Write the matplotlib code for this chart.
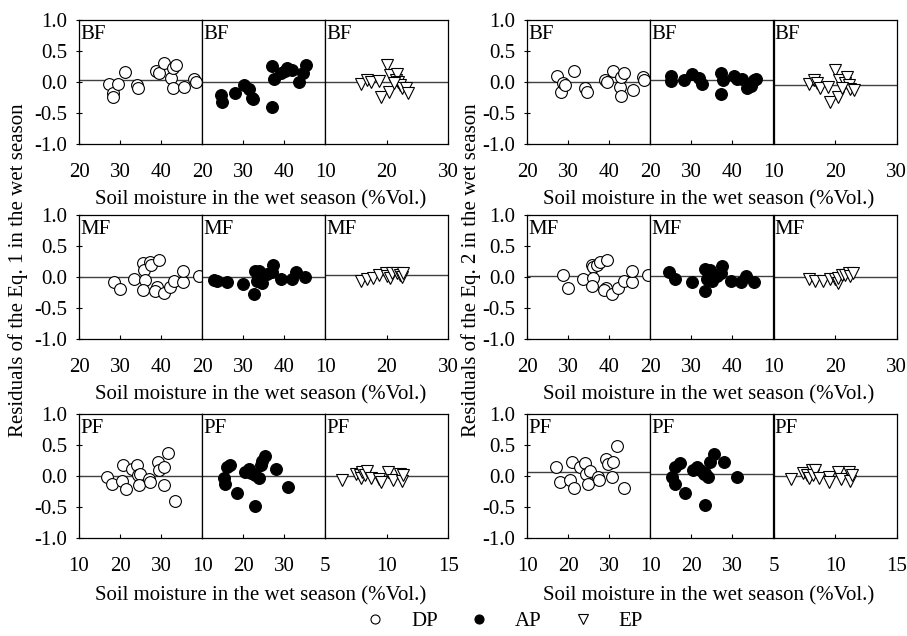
import matplotlib.pyplot as plt
from matplotlib.lines import Line2D

# residuals of Eq. 1 / Eq. 2 vs. soil moisture in the wet season
plt.rcParams['font.family'] = ['Liberation Serif', 'DejaVu Serif']
plt.rcParams['font.size'] = 15

# ---- Eq. 1, BF ----
eq1_bf_dp_x = [27.2, 28.2, 28.2, 29.4, 31.3, 34.1, 34.5, 38.8, 39.4, 40.6, 42.4, 42.9, 43.7, 42.8, 45.5, 48.0, 48.4]
eq1_bf_dp_y = [-0.04, -0.17, -0.24, -0.04, 0.16, -0.05, -0.09, 0.18, 0.15, 0.31, 0.07, 0.22, 0.27, -0.10, -0.08, 0.05, 0.00]
eq1_bf_ap_x = [24.6, 24.9, 28.0, 30.2, 31.4, 32.2, 32.4, 37.1, 37.5, 37.1, 40.1, 40.8, 42.0, 43.6, 44.5, 45.3, 39.2]
eq1_bf_ap_y = [-0.21, -0.32, -0.18, -0.05, -0.12, -0.25, -0.28, 0.26, 0.05, -0.40, 0.17, 0.22, 0.19, 0.00, 0.15, 0.27, 0.14]
eq1_bf_ep_x = [15.8, 16.8, 17.4, 18.8, 19.1, 20.1, 20.3, 20.5, 21.5, 21.7, 21.9, 22.1, 22.5, 23.1, 23.4, 21.1]
eq1_bf_ep_y = [-0.04, 0.03, 0.00, 0.01, -0.24, 0.27, -0.16, 0.11, 0.04, 0.13, 0.00, -0.05, -0.09, -0.09, -0.17, -0.01]
# ---- Eq. 1, MF ----
eq1_mf_dp_x = [28.6, 30.0, 33.5, 35.6, 35.9, 36.0, 35.6, 37.2, 37.5, 39.4, 39.0, 38.6, 40.6, 42.1, 43.2, 45.3, 45.3, 49.2]
eq1_mf_dp_y = [-0.08, -0.19, -0.03, 0.22, 0.12, -0.05, -0.21, 0.25, 0.20, 0.28, -0.16, -0.23, -0.25, -0.16, -0.07, -0.08, 0.10, 0.01]
eq1_mf_ap_x = [22.8, 23.6, 26.0, 29.9, 32.9, 32.7, 33.3, 33.9, 33.7, 34.5, 35.7, 37.3, 37.1, 39.3, 41.8, 43.0, 45.0]
eq1_mf_ap_y = [-0.05, -0.07, -0.08, -0.12, 0.09, -0.28, -0.07, 0.10, -0.01, -0.10, 0.05, 0.19, 0.08, -0.03, -0.04, 0.08, 0.00]
eq1_mf_ep_x = [15.8, 16.8, 17.7, 18.8, 19.8, 20.1, 20.5, 20.9, 21.7, 22.2, 22.5, 22.7]
eq1_mf_ep_y = [-0.07, -0.04, -0.01, 0.03, 0.06, 0.01, -0.01, 0.07, 0.07, 0.03, 0.00, 0.06]
# ---- Eq. 1, PF ----
eq1_pf_dp_x = [16.9, 18.0, 20.4, 20.8, 21.4, 22.9, 24.1, 24.3, 24.9, 24.7, 27.0, 27.2, 29.2, 29.6, 30.8, 30.6, 31.8, 33.5]
eq1_pf_dp_y = [-0.01, -0.13, -0.08, 0.18, -0.21, 0.11, 0.18, 0.02, 0.04, -0.14, -0.05, -0.09, 0.23, 0.10, 0.14, -0.14, 0.37, -0.40]
eq1_pf_ap_x = [15.3, 15.7, 16.1, 16.9, 18.4, 20.4, 21.4, 21.8, 22.8, 23.0, 23.9, 24.3, 24.7, 25.3, 27.9, 30.9]
eq1_pf_ap_y = [-0.04, -0.13, 0.14, 0.18, -0.28, 0.07, 0.11, 0.05, 0.02, -0.48, -0.03, 0.17, 0.24, 0.32, 0.11, -0.18]
eq1_pf_ep_x = [6.4, 7.5, 7.8, 7.9, 8.0, 8.2, 8.4, 8.7, 9.4, 9.5, 10.1, 10.5, 11.1, 11.2, 11.3]
eq1_pf_ep_y = [-0.07, 0.04, 0.01, -0.03, 0.07, 0.01, 0.08, -0.03, -0.05, -0.09, 0.06, -0.07, 0.04, -0.08, 0.01]

# ---- Eq. 2, BF ----
eq2_bf_dp_x = [27.3, 28.1, 28.6, 29.2, 31.4, 34.1, 34.5, 39.0, 39.4, 40.9, 42.5, 42.8, 43.6, 42.8, 45.8, 48.1, 48.5]
eq2_bf_dp_y = [0.09, -0.16, -0.01, -0.05, 0.18, -0.10, -0.16, 0.03, 0.00, 0.17, -0.08, 0.08, 0.15, -0.23, -0.13, 0.08, 0.03]
eq2_bf_ap_x = [24.9, 25.1, 28.1, 30.2, 31.8, 32.6, 37.3, 37.3, 37.8, 40.4, 41.2, 42.4, 43.5, 44.5, 45.3, 45.8]
eq2_bf_ap_y = [0.09, 0.01, 0.03, 0.13, 0.06, -0.03, 0.15, -0.20, 0.03, 0.10, 0.05, 0.05, -0.10, -0.06, 0.03, 0.05]
eq2_bf_ep_x = [15.7, 16.5, 17.0, 17.5, 18.9, 19.2, 20.0, 20.4, 20.7, 21.6, 21.9, 22.2, 22.4, 23.0, 21.2]
eq2_bf_ep_y = [-0.04, 0.04, -0.01, -0.09, -0.08, -0.32, 0.19, -0.24, 0.04, -0.01, 0.08, -0.05, -0.12, -0.13, -0.09]
# ---- Eq. 2, MF ----
eq2_mf_dp_x = [28.8, 30.0, 33.5, 35.7, 36.1, 36.1, 35.7, 37.0, 37.6, 39.4, 39.2, 38.6, 40.6, 42.2, 43.5, 45.5, 45.5, 49.3]
eq2_mf_dp_y = [0.04, -0.17, -0.04, 0.20, 0.16, -0.01, -0.14, 0.19, 0.24, 0.28, -0.17, -0.21, -0.28, -0.17, -0.07, -0.08, 0.10, 0.03]
eq2_mf_ap_x = [24.5, 25.9, 30.2, 33.2, 33.2, 33.9, 34.5, 35.1, 36.3, 37.5, 37.1, 39.6, 42.0, 43.2, 45.3]
eq2_mf_ap_y = [0.08, -0.03, -0.08, 0.13, -0.22, -0.03, 0.11, -0.07, 0.01, 0.18, 0.06, -0.07, -0.08, 0.01, -0.08]
eq2_mf_ep_x = [15.8, 16.8, 18.0, 19.2, 20.0, 20.4, 20.5, 21.1, 21.6, 22.2, 22.4, 22.9]
eq2_mf_ep_y = [-0.04, -0.07, -0.07, -0.04, -0.04, -0.09, -0.01, 0.03, 0.03, 0.06, 0.01, 0.07]
# ---- Eq. 2, PF ----
eq2_pf_dp_x = [17.0, 18.0, 20.4, 20.8, 21.4, 22.9, 24.1, 24.3, 25.3, 24.7, 27.2, 27.4, 29.2, 29.6, 30.9, 30.6, 31.8, 33.5]
eq2_pf_dp_y = [0.14, -0.09, -0.07, 0.23, -0.20, 0.14, 0.21, 0.04, 0.08, -0.13, -0.02, -0.07, 0.27, 0.20, 0.23, -0.01, 0.48, -0.20]
eq2_pf_ap_x = [15.3, 15.9, 16.1, 17.2, 18.4, 20.4, 21.4, 22.1, 23.0, 23.2, 24.1, 24.5, 25.5, 27.9, 31.0, 23.4]
eq2_pf_ap_y = [-0.02, -0.13, 0.15, 0.21, -0.28, 0.09, 0.15, 0.09, 0.04, -0.46, -0.02, 0.22, 0.36, 0.22, -0.01, 0.05]
eq2_pf_ep_x = [6.4, 7.4, 7.7, 7.9, 8.1, 8.2, 8.4, 8.7, 9.5, 9.5, 10.2, 10.5, 11.1, 11.2, 11.4]
eq2_pf_ep_y = [-0.05, 0.05, 0.01, -0.04, 0.09, 0.02, 0.09, -0.04, -0.02, -0.10, 0.07, -0.05, 0.07, -0.08, 0.02]

# horizontal fitted lines (DP, AP, EP) per forest
eq1_lines = [[0.03, -0.005, 0.0], [0.0, 0.0, 0.04], [0.0, 0.0, 0.0]]
eq2_lines = [[0.0, 0.027, -0.05], [0.01, 0.01, 0.0], [0.07, 0.04, 0.0]]

forests = ['BF', 'MF', 'PF']
xlims = [[(20, 50), (20, 50), (10, 30)],
         [(20, 50), (20, 50), (10, 30)],
         [(10, 40), (10, 40), (5, 15)]]
xticks = [[[20, 30, 40], [20, 30, 40], [10, 20, 30]],
          [[20, 30, 40], [20, 30, 40], [10, 20, 30]],
          [[10, 20, 30], [10, 20, 30], [5, 10, 15]]]

eq1_data = [
    [(eq1_bf_dp_x, eq1_bf_dp_y), (eq1_bf_ap_x, eq1_bf_ap_y), (eq1_bf_ep_x, eq1_bf_ep_y)],
    [(eq1_mf_dp_x, eq1_mf_dp_y), (eq1_mf_ap_x, eq1_mf_ap_y), (eq1_mf_ep_x, eq1_mf_ep_y)],
    [(eq1_pf_dp_x, eq1_pf_dp_y), (eq1_pf_ap_x, eq1_pf_ap_y), (eq1_pf_ep_x, eq1_pf_ep_y)],
]
eq2_data = [
    [(eq2_bf_dp_x, eq2_bf_dp_y), (eq2_bf_ap_x, eq2_bf_ap_y), (eq2_bf_ep_x, eq2_bf_ep_y)],
    [(eq2_mf_dp_x, eq2_mf_dp_y), (eq2_mf_ap_x, eq2_mf_ap_y), (eq2_mf_ep_x, eq2_mf_ep_y)],
    [(eq2_pf_dp_x, eq2_pf_dp_y), (eq2_pf_ap_x, eq2_pf_ap_y), (eq2_pf_ep_x, eq2_pf_ep_y)],
]

styles = [dict(marker='o', mfc='white', mec='black'),
          dict(marker='o', mfc='black', mec='black'),
          dict(marker='v', mfc='white', mec='black')]

W, H = 907, 636
fig = plt.figure(figsize=(W / 100, H / 100), dpi=100)


def px_axes(x0, y0, w, h):
    return fig.add_axes([x0 / W, 1 - (y0 + h) / H, w / W, h / H])


row_top = [20, 215, 414]
row_h = 124
sub_w = 123.1
group_left = [79, 527.3]

for g, (data, lines) in enumerate([(eq1_data, eq1_lines), (eq2_data, eq2_lines)]):
    for r in range(3):
        for c in range(3):
            ax = px_axes(group_left[g] + c * sub_w, row_top[r], sub_w, row_h)
            xs, ys = data[r][c]
            ax.plot(xs, ys, ls='none', ms=8.5 if c < 2 else 9, mew=0.8,
                    **styles[c], zorder=3)
            ax.axhline(lines[r][c], color='0.25', lw=1.0, zorder=2)
            ax.set_xlim(*xlims[r][c])
            ax.set_ylim(-1.0, 1.0)
            ax.set_xticks(xticks[r][c])
            ax.tick_params(axis='x', direction='in', length=3, pad=13.5, width=0.8)
            ax.tick_params(axis='y', direction='inout', length=5, pad=6, width=0.8)
            if c == 0:
                ax.set_yticks([-1.0, -0.5, 0.0, 0.5, 1.0])
                ax.set_yticklabels(['-1.0', '-0.5', '0.0', '0.5', '1.0'])
            else:
                ax.set_yticks([])
            for sp in ax.spines.values():
                sp.set_linewidth(0.9)
            ax.text(0.01, 0.96, forests[r], transform=ax.transAxes,
                    ha='left', va='top', fontsize=15)
        # x label centered under the three panels
        cx = group_left[g] + 1.5 * sub_w - 3
        ly = row_top[r] + row_h + 56 if r < 2 else row_top[r] + row_h + 58
        fig.text(cx / W, 1 - ly / H, 'Soil moisture in the wet season (%Vol.)',
                 ha='center', va='center', fontsize=15)

fig.text(18 / W, 1 - 270 / H, 'Residuals of the Eq. 1 in the wet season',
         rotation=90, ha='center', va='center', fontsize=15)
fig.text(471 / W, 1 - 270 / H, 'Residuals of the Eq. 2 in the wet season',
         rotation=90, ha='center', va='center', fontsize=15)

handles = [Line2D([], [], ls='none', ms=6.5, mew=0.8, **s) for s in styles]
fig.legend(handles, ['DP', 'AP', 'EP'], loc='center', ncol=3, frameon=False,
           bbox_to_anchor=(504 / W, 1 - 621 / H), handlelength=1.0,
           handletextpad=1.2, columnspacing=1.5, fontsize=15)

fig.savefig('out.png', dpi=100)
